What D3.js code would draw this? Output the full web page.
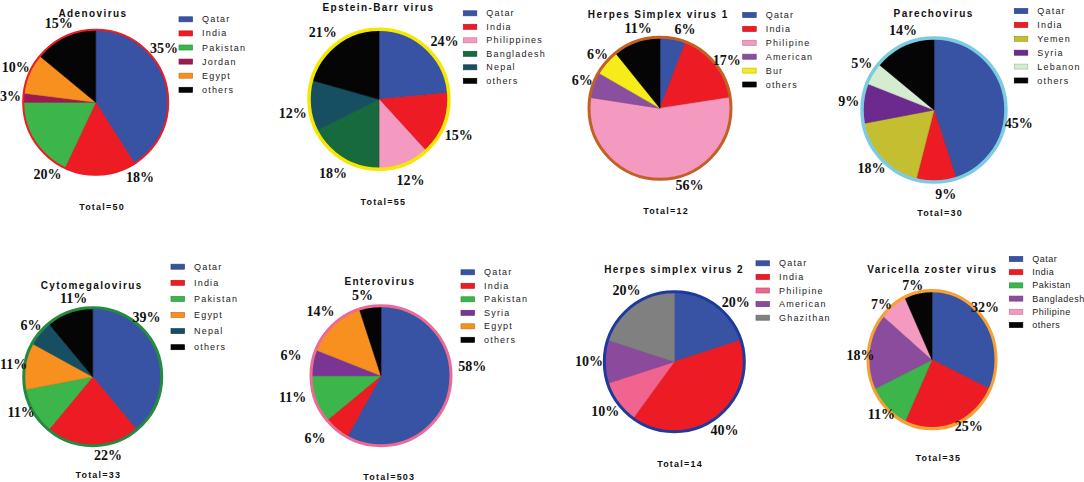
<!DOCTYPE html>
<html>
<head>
<meta charset="utf-8">
<script src="https://cdn.jsdelivr.net/npm/d3@7"></script>
<style>
  body { margin: 0; background: #fff; }
  svg { display: block; }
</style>
</head>
<body>
<svg id="chart" width="1084" height="482"></svg>
<script>
// Data
var adenoCountries = ["Qatar", "India", "Pakistan", "Jordan", "Egypt", "others"];
var adenoValues = [41, 16, 18, 2, 9, 14];            // shares as drawn
var adenoLabels = ["35%", "18%", "20%", "3%", "10%", "15%"]; // shares as printed

var ebvCountries = ["Qatar", "India", " Philippines", "Bangladesh", "Nepal", "others"];
var ebvValues = [24, 15, 12, 18, 12, 21];

var hsv1Countries = ["Qatar", "India", "Philipine", "American", "Bur", "others"];
var hsv1Values = [6, 17, 56, 6, 6, 11];

var parechoCountries = ["Qatar", "India", "Yemen", "Syria", "Lebanon", "others"];
var parechoValues = [45, 9, 18, 9, 5, 14];

var cmvCountries = ["Qatar", "India", "Pakistan", "Egypt", "Nepal", "others"];
var cmvValues = [39, 22, 11, 11, 6, 11];

var enteroCountries = ["Qatar", "India", "Pakistan", "Syria", "Egypt", "others"];
var enteroValues = [58, 6, 11, 6, 14, 5];

var hsv2Countries = ["Qatar", "India", "Philipine", "American", "Ghazithan"];
var hsv2Values = [20, 40, 10, 10, 20];

var vzvCountries = ["Qatar", "India", "Pakistan", "Bangladesh", "Philipine", "others"];
var vzvValues = [32, 25, 11, 18, 7, 7];

var totals = [50, 55, 12, 30, 33, 503, 14, 35];

function pct(v) { return v.map(function (d) { return d + "%"; }); }

// Colours
var BLUE = "#3953a4", RED = "#ed1c24", GREEN = "#3cb54a", BLACK = "#050505",
    ORANGE = "#f7901e", PINK = "#f49ac1";

// Layout of each panel
var charts = [
  { title: "Adenovirus", countries: adenoCountries, values: adenoValues, labels: adenoLabels,
    colors: [BLUE, RED, GREEN, "#9e1b50", ORANGE, BLACK],
    cx: 95.7, cy: 102.3, r: 72.5, border: "#ed1c24", bw: 2, lf: 1.2, lsp: 1.2,
    tx: 93, ty: 13, lx: 179, ly: 19.3, ls: 14.1, totx: 102, toty: 207,
    nudge: [-22, -27, -24, 0, 0, 0] },
  { title: "Epstein-Barr virus", countries: ebvCountries, values: ebvValues, labels: pct(ebvValues),
    colors: [BLUE, RED, PINK, "#17693e", "#174f62", BLACK],
    cx: 379, cy: 99.3, r: 70, border: "#f5e800", bw: 3.5, lf: 1.25, lsp: 1.2,
    tx: 378.5, ty: 7, lx: 463.3, ly: 13.3, ls: 13.5, totx: 383.3, toty: 201.7,
    nudge: [6, 3, 0, 0, -4, -3] },
  { title: "Herpes Simplex virus 1", countries: hsv1Countries, values: hsv1Values, labels: pct(hsv1Values),
    colors: [BLUE, RED, PINK, "#8a4f9e", "#f5ec1a", BLACK],
    cx: 660, cy: 108.3, r: 71, border: "#c46025", bw: 3, lf: 1.16, lsp: 1.2,
    tx: 658.3, ty: 14.3, lx: 742.7, ly: 15, ls: 13.9, totx: 666, toty: 210.7,
    nudge: [7, 3, -21, 0, 0, 4] },
  { title: "Parechovirus", countries: parechoCountries, values: parechoValues, labels: pct(parechoValues),
    colors: [BLUE, RED, "#c4bf31", "#6c2a8e", "#d4ecd0", BLACK],
    cx: 934, cy: 110, r: 72, border: "#7ccbe0", bw: 3.5, lf: 1.19, lsp: 1.2,
    tx: 933.7, ty: 13.3, lx: 1014.3, ly: 11, ls: 13.9, totx: 940, toty: 213.3,
    nudge: [18, -6, 0, 0, 2, 4] },
  { title: "Cytomegalovirus", countries: cmvCountries, values: cmvValues, labels: pct(cmvValues),
    colors: [BLUE, RED, GREEN, ORANGE, "#174f62", BLACK],
    cx: 92.7, cy: 376.7, r: 69, border: "#238a3f", bw: 3, lf: 1.16, lsp: 1.2,
    tx: 91.7, ty: 285, lx: 171, ly: 266.7, ls: 16.1, totx: 98.3, toty: 475,
    nudge: [-28, -11, 4, 0, 0, 6] },
  { title: "Enterovirus", countries: enteroCountries, values: enteroValues, labels: pct(enteroValues),
    colors: [BLUE, RED, GREEN, "#7a3594", ORANGE, BLACK],
    cx: 381, cy: 375.7, r: 70, border: "#ec6a93", bw: 3, lf: [1.31, 1.3, 1.3, 1.32, 1.26, 1.18], lsp: 1.2,
    tx: 380, ty: 281.5, lx: 461, ly: 272.3, ls: 13.5, totx: 389.3, toty: 477.3,
    nudge: [-20, 7, 6, 2, 0, -4] },
  { title: "Herpes simplex virus 2", countries: hsv2Countries, values: hsv2Values, labels: pct(hsv2Values),
    colors: [BLUE, RED, "#f0648f", "#8b4a9b", "#808080"],
    cx: 674.3, cy: 361.7, r: 70, border: "#1f3a9e", bw: 3, lf: 1.22, lsp: 1.2,
    tx: 674, ty: 269, lx: 756, ly: 263.3, ls: 13.6, totx: 680, toty: 464,
    nudge: [10, 0, 0, 0, 2] },
  { title: "Varicella zoster virus", countries: vzvCountries, values: vzvValues, labels: pct(vzvValues),
    colors: [BLUE, RED, GREEN, "#8c4c9e", PINK, BLACK],
    cx: 932, cy: 359.7, r: 64, ry: 69, border: "#f7a035", bw: 3, lf: 1.12, lsp: 0.5,
    tx: 932.3, ty: 269.3, lx: 1009.3, ly: 259, ls: 13.2, totx: 938.3, toty: 458.3,
    nudge: [-10, -11, 0, -4, -7, -3] }
];

var svg = d3.select("#chart");
var W = +svg.attr("width");
var sans = "'Liberation Sans', Arial, sans-serif";
var serif = "'Liberation Serif', 'Times New Roman', serif";

var pie = d3.pie().sort(null).value(function (d) { return d; });

charts.forEach(function (c, ci) {
  var g = svg.append("g");
  var sy = (c.ry || c.r) / c.r;

  // pie body
  var arc = d3.arc().innerRadius(0).outerRadius(c.r);
  var pg = g.append("g")
      .attr("transform", "translate(" + c.cx + "," + c.cy + ") scale(1," + sy + ")");

  var arcs = pie(c.values);

  pg.selectAll("path")
      .data(arcs)
      .enter().append("path")
      .attr("d", arc)
      .attr("fill", function (d, i) { return c.colors[i]; })
      .attr("stroke", function (d, i) { return d3.color(c.colors[i]).darker(0.4); })
      .attr("stroke-width", 0.6);

  pg.append("circle")
      .attr("r", c.r)
      .attr("fill", "none")
      .attr("stroke", c.border)
      .attr("stroke-width", c.bw);

  // percentage labels
  function lr(i) { return c.r * (Array.isArray(c.lf) ? c.lf[i] : c.lf); }
  function mid(d, i) { return (d.startAngle + d.endAngle) / 2 + c.nudge[i] * Math.PI / 180; }

  g.selectAll("text.pct")
      .data(arcs)
      .enter().append("text")
      .attr("class", "pct")
      .attr("x", function (d, i) { return c.cx + lr(i) * Math.sin(mid(d, i)); })
      .attr("y", function (d, i) { return c.cy - lr(i) * sy * Math.cos(mid(d, i)); })
      .attr("text-anchor", "middle")
      .attr("dominant-baseline", "central")
      .attr("font-family", serif)
      .attr("font-weight", "bold")
      .attr("font-size", "14px")
      .attr("fill", "#111")
      .text(function (d, i) { return c.labels[i]; })
      .each(function () {
        // keep labels inside the page
        var t = d3.select(this), half = this.getComputedTextLength() / 2, x = +t.attr("x");
        if (x - half < 0) t.attr("x", half);
        if (x + half > W) t.attr("x", W - half);
      });

  // title
  g.append("text")
      .attr("x", c.tx)
      .attr("y", c.ty)
      .attr("text-anchor", "middle")
      .attr("dominant-baseline", "central")
      .attr("font-family", sans)
      .attr("font-weight", "bold")
      .attr("font-size", "10px")
      .attr("letter-spacing", "1.4px")
      .attr("fill", "#111")
      .text(c.title);

  // legend
  var leg = g.selectAll("g.leg")
      .data(c.countries)
      .enter().append("g")
      .attr("class", "leg")
      .attr("transform", function (d, i) {
        return "translate(" + c.lx + "," + (c.ly + i * c.ls) + ")";
      });

  leg.append("rect")
      .attr("x", 0)
      .attr("y", -2.5)
      .attr("width", 13.5)
      .attr("height", 5)
      .attr("fill", function (d, i) { return c.colors[i]; })
      .attr("stroke", function (d, i) { return d3.color(c.colors[i]).darker(0.6); })
      .attr("stroke-width", 0.7);

  leg.append("text")
      .attr("x", 23)
      .attr("y", 0)
      .attr("dominant-baseline", "central")
      .attr("font-family", sans)
      .attr("font-size", "9px")
      .attr("letter-spacing", c.lsp + "px")
      .attr("fill", "#222")
      .text(function (d) { return d; });

  // total
  g.append("text")
      .attr("x", c.totx)
      .attr("y", c.toty)
      .attr("text-anchor", "middle")
      .attr("dominant-baseline", "central")
      .attr("font-family", sans)
      .attr("font-weight", "bold")
      .attr("font-size", "9px")
      .attr("letter-spacing", "1.2px")
      .attr("fill", "#111")
      .text("Total=" + totals[ci]);
});
</script>
</body>
</html>
